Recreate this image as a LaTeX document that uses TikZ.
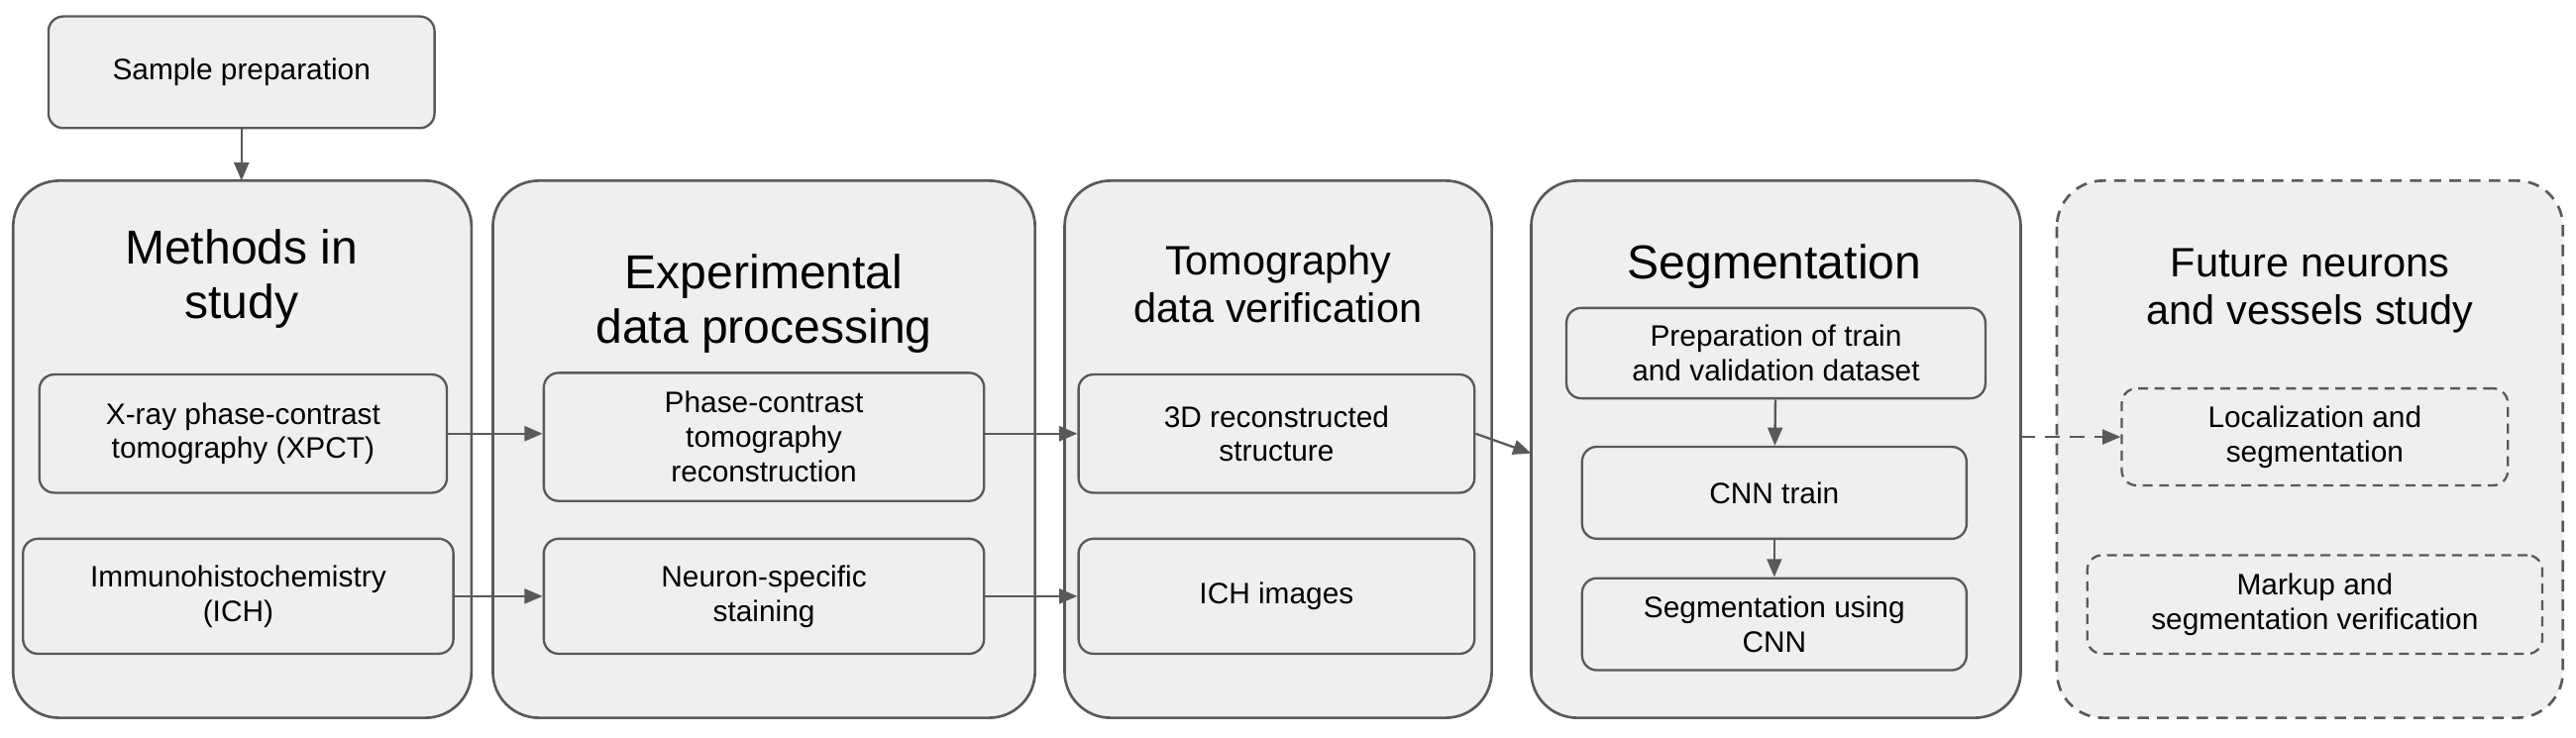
\documentclass[tikz,border=0pt]{standalone}
\usepackage{fontspec}
\setmainfont{Liberation Sans}
\usetikzlibrary{arrows.meta}
\definecolor{bx}{HTML}{EFEFEF}
\definecolor{ln}{HTML}{595959}
\begin{document}
\begin{tikzpicture}[x=1pt,y=-1pt,
  big/.style={draw=ln,line width=1.6pt,fill=bx,rounded corners=28pt},
  sm/.style={draw=ln,line width=1.4pt,fill=bx,rounded corners=9pt},
  txt/.style={align=center,font=\fontsize{18}{21}\selectfont,text=black},
  ttl/.style={align=center,font=\fontsize{29}{33}\selectfont,text=black},
  ttlb/.style={align=center,font=\fontsize{25}{29}\selectfont,text=black},
  arr/.style={draw=ln,line width=1.4pt,-{Triangle[length=11pt,width=9pt]}}]
\useasboundingbox (0,0) rectangle (1568,449);
\newcommand\bx[6]{\path[#1] (#2,#3) rectangle (#4,#5); \node[txt] at ({(#2+#4)/2},{(#3+#5)/2}) {#6};}
% columns
\path[big] (8,110) rectangle (287,437) node[pos=0] (c1) {};
\coordinate (c1t) at (147,110);
\path[big] (300,110) rectangle (630,437);
\path[big] (648,110) rectangle (908,437);
\path[big] (932,110) rectangle (1230,437);
\coordinate (c4l) at (932,276); \coordinate (c4r) at (1230,266);
\path[big,dashed,dash pattern=on 7pt off 5pt] (1252,110) rectangle (1560,437);
\node[ttl] (t1) at (147,170) {Methods in\\study};
\node[ttl] (t2) at (465,185) {Experimental\\data processing};
\node[ttlb] (t3) at (778,173) {Tomography\\data verification};
\node[ttl] (t4) at (1080,162) {Segmentation};
\node[ttlb] (t5) at (1406,177) {Future neurons\\and vessels study};
% small boxes
\node[sm,txt,minimum width=235pt,minimum height=68pt] (sp) at (147,44) {Sample preparation};
\node[sm,txt,minimum width=248pt,minimum height=72pt] (xp) at (148,264) {X-ray phase-contrast\\tomography (XPCT)};
\node[sm,txt,minimum width=262pt,minimum height=70pt] (ih) at (145,363) {Immunohistochemistry\\(ICH)};
\node[sm,txt,minimum width=268pt,minimum height=78pt] (pc) at (465,266) {Phase-contrast\\tomography\\reconstruction};
\node[sm,txt,minimum width=268pt,minimum height=70pt] (ns) at (465,363) {Neuron-specific\\staining};
\node[sm,txt,minimum width=241pt,minimum height=72pt] (rs) at (777,264) {3D reconstructed\\structure};
\node[sm,txt,minimum width=241pt,minimum height=70pt] (ii) at (777,363) {ICH images};
\node[sm,txt,minimum width=255pt,minimum height=55pt] (pr) at (1081,215) {Preparation of train\\and validation dataset};
\node[sm,txt,minimum width=234pt,minimum height=56pt] (ct) at (1080,300) {CNN train};
\node[sm,txt,minimum width=234pt,minimum height=56pt] (sc) at (1080,380) {Segmentation using\\CNN};
\node[sm,dashed,dash pattern=on 6pt off 4pt,txt,minimum width=235pt,minimum height=59pt] (lo) at (1409,266) {Localization and\\segmentation};
\node[sm,dashed,dash pattern=on 6pt off 4pt,txt,minimum width=277pt,minimum height=60pt] (mk) at (1409,368) {Markup and\\segmentation verification};
% arrows
\draw[arr] (sp) -- (c1t);
\draw[arr] (xp.east) -- (pc.west|-xp.east);
\draw[arr] (ih.east) -- (ns.west);
\draw[arr] (pc.east|-xp.east) -- (rs.west);
\draw[arr] (ns.east) -- (ii.west);
\draw[arr] (rs.east) -- (c4l);
\draw[arr] (pr) -- (ct);
\draw[arr] (ct) -- (sc);
\draw[arr,dashed,dash pattern=on 9pt off 6pt] (c4r) -- (lo.west);
\end{tikzpicture}
\end{document}
